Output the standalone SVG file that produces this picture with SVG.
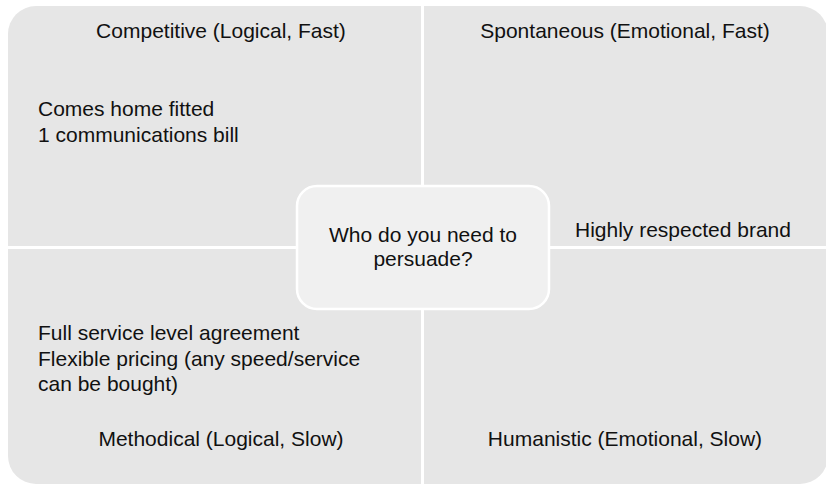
<svg xmlns="http://www.w3.org/2000/svg" width="826" height="485" viewBox="0 0 826 485">
<style>
.q{fill:#e6e6e6}
.t{font-family:"Liberation Sans",Arial,Helvetica,sans-serif;font-size:21px;fill:#111}
.c{text-anchor:middle}
</style>
<rect width="826" height="485" fill="#fff"/>
<g id="q-competitive">
<path class="q" d="M36,6 H421 V246 H8 V34 A28,28 0 0 1 36,6 Z"/>
<text class="t c" x="221" y="38">Competitive (Logical, Fast)</text>
<text class="t" x="38" y="116">Comes home fitted</text>
<text class="t" x="38" y="142">1 communications bill</text>
</g>
<g id="q-spontaneous">
<path class="q" d="M424,6 H800 A28,28 0 0 1 828,34 V246 H424 Z"/>
<text class="t c" x="625" y="38">Spontaneous (Emotional, Fast)</text>
<text class="t" x="575" y="237">Highly respected brand</text>
</g>
<g id="q-methodical">
<path class="q" d="M8,249 H421 V484 H36 A28,28 0 0 1 8,456 Z"/>
<text class="t" x="38" y="340">Full service level agreement</text>
<text class="t" x="38" y="366">Flexible pricing (any speed/service</text>
<text class="t" x="38" y="391">can be bought)</text>
<text class="t c" x="221" y="446">Methodical (Logical, Slow)</text>
</g>
<g id="q-humanistic">
<path class="q" d="M424,249 H828 V456 A28,28 0 0 1 800,484 H424 Z"/>
<text class="t c" x="625" y="446">Humanistic (Emotional, Slow)</text>
</g>
<g id="center">
<rect x="297" y="186" width="252" height="123" rx="20" fill="#f0f0f0" stroke="#fff" stroke-width="2.5"/>
<text class="t c" x="423" y="242">Who do you need to</text>
<text class="t c" x="423" y="266">persuade?</text>
</g>
<g id="connectors"></g>
</svg>
